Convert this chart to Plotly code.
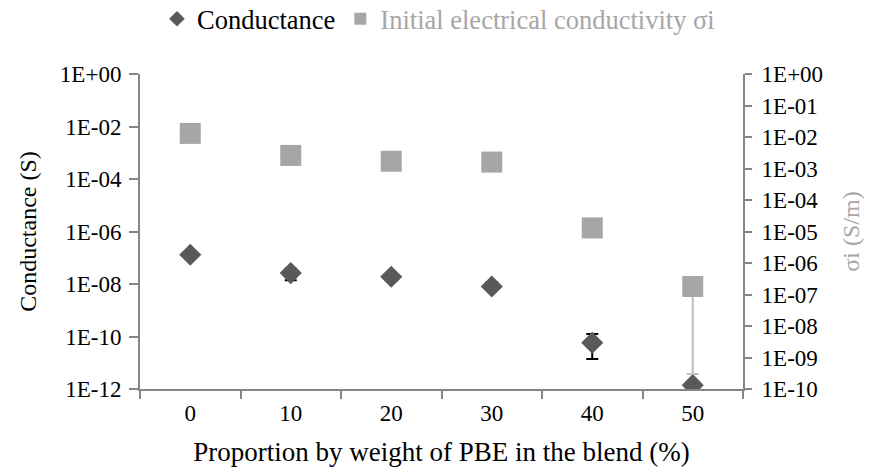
import plotly.graph_objects as go

categories = ["0", "10", "20", "30", "40", "50"]
conductance = [1.3e-7, 2.6e-8, 1.9e-8, 8.0e-9, 5.8e-11, 1.4e-12]
cond_err_plus = [2.0e-8, 1.2e-8, 6.0e-9, 4.0e-9, 6.6e-11, 5.0e-13]
cond_err_minus = [3.0e-8, 1.2e-8, 6.0e-9, 2.0e-9, 4.4e-11, 3.0e-13]
sigma = [1.3e-2, 2.6e-3, 1.7e-3, 1.6e-3, 1.3e-5, 1.8e-7]
sigma_err_plus = [1.0e-3, 2.0e-4, 3.0e-4, 3.0e-4, 5.0e-6, 1.0e-8]
sigma_err_minus = [1.0e-3, 2.0e-4, 5.0e-4, 5.0e-4, 2.0e-6, 1.797e-7]
left_ticks = [1e0, 1e-2, 1e-4, 1e-6, 1e-8, 1e-10, 1e-12]
left_labels = ["1E+00", "1E-02", "1E-04", "1E-06", "1E-08", "1E-10", "1E-12"]
right_ticks = [10.0 ** (-k) for k in range(0, 11)]
right_labels = ["1E+00"] + ["1E-%02d" % k for k in range(1, 11)]

FONT = "Liberation Serif"
AXIS = "#868686"

fig = go.Figure()
fig.add_trace(go.Scatter(
    x=categories, y=sigma, name='<span style="color:#a6a6a6">Initial electrical conductivity σi</span>',
    mode="markers", yaxis="y2",
    marker=dict(symbol="square", size=21, color="#a6a6a6"),
    error_y=dict(type="data", array=sigma_err_plus, arrayminus=sigma_err_minus,
                 color="#bfbfbf", thickness=2, width=6),
    legendrank=2,
))
fig.add_trace(go.Scatter(
    x=categories, y=conductance, name="Conductance",
    mode="markers", yaxis="y",
    marker=dict(symbol="diamond", size=17, color="#595959"),
    error_y=dict(type="data", array=cond_err_plus, arrayminus=cond_err_minus,
                 color="#000000", thickness=2, width=6),
    legendrank=1,
))

fig.update_layout(
    width=872, height=473,
    margin=dict(l=140, r=129, t=74, b=84, autoexpand=False),
    paper_bgcolor="white", plot_bgcolor="white",
    font=dict(family=FONT, size=23, color="#000000"),
    showlegend=True,
    legend=dict(orientation="h", x=0.495, xanchor="center", y=1.1746,
                yanchor="middle", font=dict(size=26.5, family=FONT),
                itemsizing="constant", traceorder="normal", itemwidth=30),
    xaxis=dict(
        type="category", range=[-0.5, 5.5], showgrid=False,
        showline=True, linecolor=AXIS, linewidth=2,
        ticks="outside", tickson="boundaries", ticklen=8, tickcolor=AXIS, tickwidth=2,
        tickfont=dict(size=23, family=FONT), ticklabelstandoff=2,
        title=dict(text="Proportion by weight of PBE in the blend (%)",
                   font=dict(size=27, family=FONT), standoff=18),
    ),
    yaxis=dict(
        type="log", range=[-12, 0], showgrid=False, zeroline=False,
        showline=True, linecolor=AXIS, linewidth=2,
        ticks="outside", ticklen=9, tickcolor=AXIS, tickwidth=2,
        tickvals=left_ticks, ticktext=left_labels, ticklabelstandoff=3,
        tickfont=dict(size=23, family=FONT),
        title=dict(text="Conductance (S)", font=dict(size=24, family=FONT), standoff=16),
    ),
    yaxis2=dict(
        type="log", range=[-10, 0], overlaying="y", side="right", showgrid=False,
        zeroline=False, showline=True, linecolor=AXIS, linewidth=2,
        ticks="outside", ticklen=7, tickcolor=AXIS, tickwidth=2,
        tickvals=right_ticks, ticktext=right_labels, ticklabelstandoff=5,
        tickfont=dict(size=23, family=FONT),
        title=dict(text="σi (S/m)", font=dict(size=24, family=FONT, color="#a6a6a6"), standoff=20),
    ),
)

fig.write_html("out.html")
